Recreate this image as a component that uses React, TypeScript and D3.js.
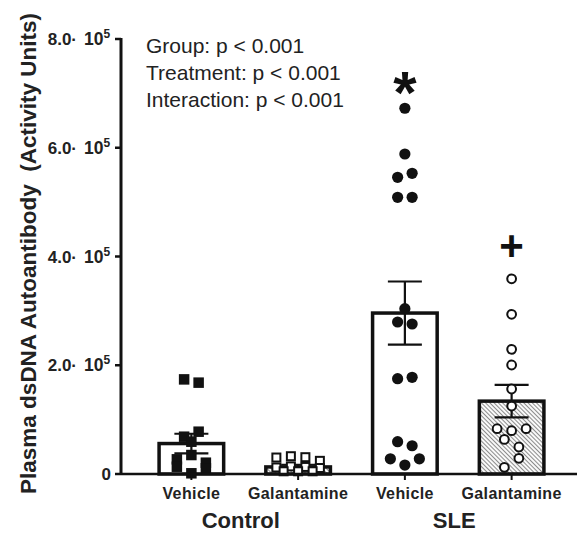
import React from "react";
import * as d3 from "d3";

const categories = ["Vehicle", "Galantamine", "Vehicle", "Galantamine"];
const groups = ["Control", "SLE"];
const yTicks = [0, 200000, 400000, 600000, 800000];
const tickMantissa = ["0", "2.0", "4.0", "6.0", "8.0"];
const barMeans = [56000, 13000, 296000, 134000];
const barSems = [18000, 4000, 58000, 30000];
const ctrlVehicle = [174000, 168000, 68600, 77800, 59400, 27000, 34900, 20800, 13400, 1300, 10500];
const ctrlGalantamine = [30300, 32700, 30900, 24200, 12000, 14000, 13000, 11000, 5000, 5000, 5000];
const sleVehicle = [672600, 588500, 545700, 553000, 508900, 508900, 304000, 279500, 275900, 175300, 177800, 59400, 52000, 28000, 16500, 28000];
const sleGalantamine = [359000, 293700, 229300, 200500, 156300, 125000, 83300, 79600, 83300, 63600, 49700, 12300, 28900];
const stats = ["Group: p < 0.001", "Treatment: p < 0.001", "Interaction: p < 0.001"];
const sigMarks = ["", "", "*", "+"];
const yTitle = "Plasma dsDNA Autoantibody  (Activity Units)";

const FONT = "'Liberation Sans', Arial, Helvetica, sans-serif";

const W = 581;
const H = 533;

// row-based scatter layout (GraphPad-like): rows of close values spread symmetrically
function rowLayout(values: number[], ys: (v: number) => number, rowGap = 9.5, maxPerRow = 4) {
  const idx = values.map((_, i) => i).sort((a, b) => values[b] - values[a] || a - b);
  const rows: number[][] = [];
  let cur: number[] = [];
  for (const i of idx) {
    if (cur.length && (ys(values[i]) - ys(values[cur[0]]) >= rowGap || cur.length >= maxPerRow)) {
      rows.push(cur);
      cur = [];
    }
    cur.push(i);
  }
  if (cur.length) rows.push(cur);
  const slot: number[] = new Array(values.length).fill(0);
  rows.forEach((r) => {
    r.sort((a, b) => a - b);
    r.forEach((i, k) => (slot[i] = k - (r.length - 1) / 2));
  });
  return slot;
}

export default function App() {
  const y = d3.scaleLinear().domain([0, 800000]).range([474, 39]);
  const x = d3.scaleBand<number>().domain([0, 1, 2, 3]).range([138, 565]).padding(0);
  const jitter = d3.scaleLinear().domain([-1, 1]).range([-14.5, 14.5]);
  const cx = (i: number) => (x(i) as number) + x.bandwidth() / 2;
  const barW = x.bandwidth() * 0.605;
  const capW = 34;
  const axisX = 121;

  const series = [ctrlVehicle, ctrlGalantamine, sleVehicle, sleGalantamine];
  const hatched = [false, true, false, true];

  const markers = series.map((vals, gi) => {
    const slots = rowLayout(vals, (v) => y(v));
    return vals.map((v, i) => {
      const px = cx(gi) + jitter(slots[i]);
      const py = y(v);
      const key = `${gi}-${i}`;
      if (gi === 0) {
        const s = 10.5;
        return <rect key={key} x={px - s / 2} y={py - s / 2} width={s} height={s} fill="#111" />;
      }
      if (gi === 1) {
        const s = 8;
        return <rect key={key} x={px - s / 2} y={py - s / 2} width={s} height={s} fill="white" stroke="#111" strokeWidth={2} />;
      }
      if (gi === 2) {
        return <circle key={key} cx={px} cy={py} r={5.6} fill="#111" />;
      }
      return <circle key={key} cx={px} cy={py} r={4.4} fill="white" stroke="#111" strokeWidth={2} />;
    });
  });

  return (
    <svg width={W} height={H} style={{ position: "absolute", left: 0, top: 0, background: "white" }} fontFamily={FONT}>
      <defs>
        <pattern id="hatch" patternUnits="userSpaceOnUse" width={3} height={3} patternTransform="rotate(-45)">
          <rect width={3} height={3} fill="white" />
          <line x1={1.5} y1={0} x2={1.5} y2={3} stroke="#8c8c8c" strokeWidth={1.1} />
        </pattern>
      </defs>
      <rect width={W} height={H} fill="white" />

      {/* bars */}
      {barMeans.map((m, i) => (
        <rect
          key={`bar-${i}`}
          x={cx(i) - barW / 2}
          y={y(m)}
          width={barW}
          height={y(0) - y(m)}
          fill={hatched[i] ? "url(#hatch)" : "white"}
          stroke="#111"
          strokeWidth={3.5}
        />
      ))}

      {/* error bars */}
      {barMeans.map((m, i) => (
        <g key={`err-${i}`} stroke="#111" strokeWidth={2.2}>
          <line x1={cx(i)} x2={cx(i)} y1={y(m - barSems[i])} y2={y(m + barSems[i])} />
          <line x1={cx(i) - capW / 2} x2={cx(i) + capW / 2} y1={y(m + barSems[i])} y2={y(m + barSems[i])} />
          <line x1={cx(i) - capW / 2} x2={cx(i) + capW / 2} y1={y(m - barSems[i])} y2={y(m - barSems[i])} />
        </g>
      ))}

      {/* points */}
      {markers}

      {/* y axis */}
      <line x1={axisX} x2={axisX} y1={y(0)} y2={y(800000) - 1} stroke="#111" strokeWidth={3} />
      {yTicks.map((t, i) => (
        <g key={`yt-${i}`}>
          <line x1={axisX - 6} x2={axisX} y1={y(t)} y2={y(t)} stroke="#111" strokeWidth={2.5} />
          {t === 0 ? (
            <text x={111} y={y(t) + 6} textAnchor="end" fontSize={17} fontWeight="bold" fill="#222">
              {tickMantissa[i]}
            </text>
          ) : (
            <g>
              <text x={77} y={y(t) + 6} textAnchor="end" fontSize={17} fontWeight="bold" fill="#222">
                {tickMantissa[i] + "·"}
              </text>
              <text x={84} y={y(t) + 6} textAnchor="start" fontSize={17.5} fontWeight="bold" fill="#222">
                10
                <tspan fontSize={12} dy={-7}>
                  5
                </tspan>
              </text>
            </g>
          )}
        </g>
      ))}

      {/* x axis */}
      <line x1={axisX} x2={577} y1={y(0)} y2={y(0)} stroke="#111" strokeWidth={2.5} />
      {categories.map((c, i) => (
        <g key={`xt-${i}`}>
          <line x1={cx(i)} x2={cx(i)} y1={y(0)} y2={y(0) + 6} stroke="#111" strokeWidth={2} />
          <text x={cx(i)} y={498.5} textAnchor="middle" fontSize={16} fontWeight="bold" letterSpacing={0.4} fill="#222">
            {c}
          </text>
        </g>
      ))}
      {groups.map((g, gi) => (
        <text
          key={`grp-${gi}`}
          x={(cx(gi * 2) + cx(gi * 2 + 1)) / 2 - 4}
          y={528}
          textAnchor="middle"
          fontSize={22}
          fontWeight="bold"
          fill="#222"
        >
          {g}
        </text>
      ))}

      {/* y title */}
      <text
        transform={`translate(36, ${(y(0) + y(800000)) / 2 - 3}) rotate(-90)`}
        textAnchor="middle"
        fontSize={22.5}
        fontWeight="bold"
        fill="#222"
        style={{ whiteSpace: "pre" }}
      >
        {yTitle}
      </text>

      {/* stats */}
      {stats.map((s, i) => (
        <text key={`st-${i}`} x={146} y={53.3 + i * 26.7} fontSize={21} fill="#222">
          {s}
        </text>
      ))}

      {/* significance marks */}
      {sigMarks.map((s, i) =>
        s === "*" ? (
          <text key={`sig-${i}`} x={cx(i)} y={113} textAnchor="middle" fontSize={60} fontWeight="bold" fill="#111">
            {s}
          </text>
        ) : s === "+" ? (
          <text key={`sig-${i}`} x={cx(i)} y={260} textAnchor="middle" fontSize={42} fontWeight="bold" fill="#111">
            {s}
          </text>
        ) : null
      )}
    </svg>
  );
}
